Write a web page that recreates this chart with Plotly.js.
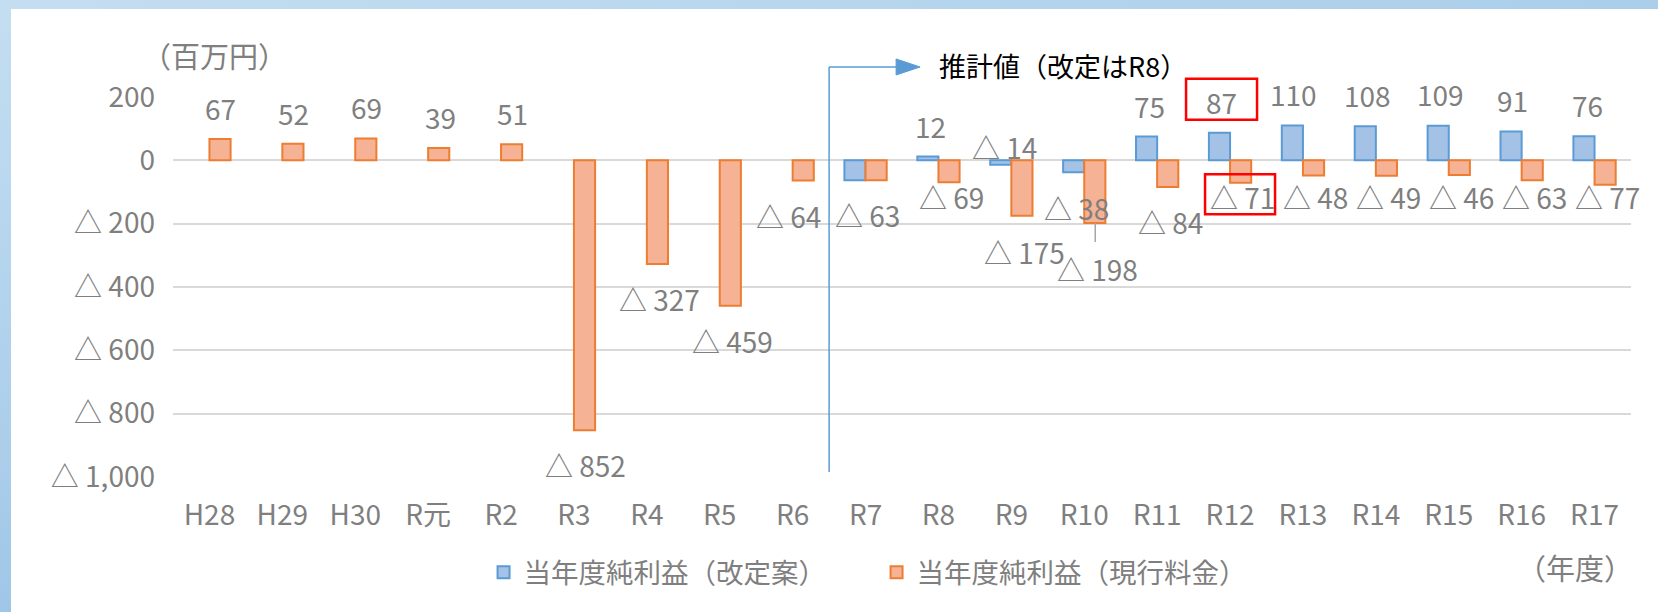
<!DOCTYPE html>
<html>
<head>
<meta charset="utf-8">
<script src="https://cdn.plot.ly/plotly-3.0.1.min.js"></script>
<style>
  html, body { margin: 0; padding: 0; width: 1658px; height: 612px; overflow: hidden; }
  body { background: linear-gradient(165deg, #c4def1 0%, #a9cdea 45%, #7fb2df 100%); position: relative; }
  #frame { position: absolute; left: 11px; top: 9px; width: 1647px; height: 603px; background: #ffffff; }
  #chart { width: 1647px; height: 603px; }
</style>
</head>
<body>
<div id="frame"><div id="chart"></div></div>
<script>
// ---- data ----
const categories = ['H28','H29','H30','R元','R2','R3','R4','R5','R6','R7','R8','R9','R10','R11','R12','R13','R14','R15','R16','R17'];
const revisedPlan = [null,null,null,null,null,null,null,null,null,-63,12,-14,-38,75,87,110,108,109,91,76];   // 当年度純利益（改定案）
const currentRates = [67,52,69,39,51,-852,-327,-459,-64,-63,-69,-175,-198,-84,-71,-48,-49,-46,-63,-77]; // 当年度純利益（現行料金）
const seriesNames = ['当年度純利益（改定案）','当年度純利益（現行料金）'];
const yTickValues = [200,0,-200,-400,-600,-800,-1000];
const unitLabel = '（百万円）';
const yearLabel = '（年度）';
const estimateLabel = '推計値（改定はR8）';
const estimateStart = 'R7';
const highlightCategory = 'R12';

// ---- label placement (pixels, relative to bar end / category centre) ----
const blueLabelDx = [0,0,0,0,0,0,0,0,0,0,-8,-7,-8,-8,-9,-9,-8,-8,-9,-7];
const blueLabelDy = [0,0,0,0,0,0,0,0,0,null,31,18,-36,31,31,32,31,32,32,31];
const orangeLabelDx = [11,11,11,12,11,12,13,13,-4,2,13,13,13,13,12,13,13,13,13,13];
const orangeLabelDy = [31,31,31,31,31,-35,-35,-35,-35,-35,-15,-36,-46,-35,-14,-21,-21,-22,-17,-12];

const numFont = '"Noto Sans CJK JP", Lato, sans-serif';
const cjkFont = '"Noto Sans CJK JP", sans-serif';
const gray = '#7f7f7f';
const yMin = -1000, yMax = 200;

function fmt(v) {
  const a = Math.abs(v).toLocaleString('en-US');
  return v < 0 ? '△ ' + a : a;
}
function paperY(v) { return (v - yMin) / (yMax - yMin); }

const traces = [
  {
    type: 'bar', name: seriesNames[0], x: categories, y: revisedPlan,
    marker: { color: '#a3c2e6', line: { color: '#5b9bd5', width: 2 } },
    hoverinfo: 'skip'
  },
  {
    type: 'bar', name: seriesNames[1], x: categories, y: currentRates,
    marker: { color: '#f5b294', line: { color: '#ed7d31', width: 2 } },
    hoverinfo: 'skip'
  }
];

const labelSize = 28;
const annotations = [];
categories.forEach((c, i) => {
  const b = revisedPlan[i];
  if (b !== null && blueLabelDy[i] !== null) {
    annotations.push({ x: c, y: b, xref: 'x', yref: 'y', text: fmt(b), showarrow: false,
      xanchor: 'center', yanchor: 'middle', xshift: blueLabelDx[i], yshift: blueLabelDy[i],
      font: { family: numFont, size: labelSize, color: gray } });
  }
  const o = currentRates[i];
  if (o !== null) {
    annotations.push({ x: c, y: o, xref: 'x', yref: 'y', text: fmt(o), showarrow: false,
      xanchor: 'center', yanchor: 'middle', xshift: orangeLabelDx[i], yshift: orangeLabelDy[i],
      font: { family: numFont, size: labelSize, color: gray } });
  }
});
annotations.push({ xref: 'paper', yref: 'paper', x: 0.0288, y: 1.11, text: unitLabel, showarrow: false,
  xanchor: 'center', yanchor: 'middle', font: { family: cjkFont, size: 29, color: gray } });
annotations.push({ xref: 'paper', yref: 'paper', x: 0.524, y: 1.083, text: estimateLabel, showarrow: false,
  xanchor: 'left', yanchor: 'middle', font: { family: cjkFont, size: 27, color: '#000000' } });
annotations.push({ xref: 'paper', yref: 'paper', x: 1.003, y: -0.238, text: yearLabel, showarrow: false,
  xanchor: 'right', yanchor: 'middle', font: { family: cjkFont, size: 29, color: gray } });

const divX = categories.indexOf(estimateStart) - 0.5;
const hiIdx = categories.indexOf(highlightCategory);
const r10 = categories.indexOf('R10');
const shapes = [
  // divider line
  { type: 'line', xref: 'x', yref: 'paper', x0: divX, x1: divX, y0: 0.013, y1: 1.079,
    line: { color: '#5b9bd5', width: 1.5 } },
  // arrow shaft
  { type: 'line', xref: 'x', xsizemode: 'pixel', xanchor: divX, x0: 0, x1: 70, yref: 'paper', y0: 1.079, y1: 1.079,
    line: { color: '#5b9bd5', width: 1.5 } },
  // arrow head
  { type: 'path', xref: 'x', xsizemode: 'pixel', xanchor: divX, yref: 'paper', ysizemode: 'pixel', yanchor: 1.079,
    path: 'M67,8 L91,0 L67,-8 Z', fillcolor: '#5b9bd5', line: { color: '#5b9bd5', width: 1 } },
  // leader line for R10 label
  { type: 'line', xref: 'x', xsizemode: 'pixel', xanchor: r10, x0: 11, x1: 11,
    yref: 'y', ysizemode: 'pixel', yanchor: currentRates[r10], y0: 0, y1: -19,
    line: { color: '#a6a6a6', width: 1.5 } },
  // highlight boxes
  { type: 'rect', xref: 'x', xsizemode: 'pixel', xanchor: hiIdx, x0: -44, x1: 27,
    yref: 'paper', ysizemode: 'pixel', yanchor: paperY(revisedPlan[hiIdx]), y0: 13, y1: 54,
    line: { color: '#ff0000', width: 2.5 } },
  { type: 'rect', xref: 'x', xsizemode: 'pixel', xanchor: hiIdx, x0: -25, x1: 45,
    yref: 'paper', ysizemode: 'pixel', yanchor: paperY(currentRates[hiIdx]), y0: 8.5, y1: -31.5,
    line: { color: '#ff0000', width: 2.5 } }
];

const layout = {
  width: 1647, height: 603,
  margin: { l: 161.5, r: 27, t: 87.7, b: 135.3, pad: 0, autoexpand: false },
  paper_bgcolor: '#ffffff', plot_bgcolor: '#ffffff',
  barmode: 'group', bargap: 0.42, bargroupgap: 0,
  showlegend: true,
  legend: { orientation: 'h', x: 0.213, xanchor: 'left', y: -0.251, yanchor: 'middle',
    entrywidth: 348, entrywidthmode: 'pixels',
    font: { family: cjkFont, size: 27.5, color: gray }, bgcolor: 'rgba(0,0,0,0)', traceorder: 'normal' },
  xaxis: { type: 'category', range: [-0.5, categories.length - 0.5], autorange: false,
    showgrid: false, zeroline: false, showline: false, ticks: '', automargin: false,
    tickfont: { family: numFont, size: 28, color: gray }, ticklabelstandoff: 19, fixedrange: true },
  yaxis: { range: [yMin, yMax], autorange: false, tickvals: yTickValues, ticktext: yTickValues.map(fmt),
    showgrid: true, gridcolor: '#d9d9d9', gridwidth: 2, zeroline: true, zerolinecolor: '#d9d9d9', zerolinewidth: 2,
    showline: false, ticks: '', automargin: false, tickfont: { family: numFont, size: 28, color: gray }, ticklabelstandoff: 17, fixedrange: true },
  annotations: annotations,
  shapes: shapes,
  hovermode: false
};

Plotly.newPlot('chart', traces, layout, { displayModeBar: false, staticPlot: true });
</script>
</body>
</html>
